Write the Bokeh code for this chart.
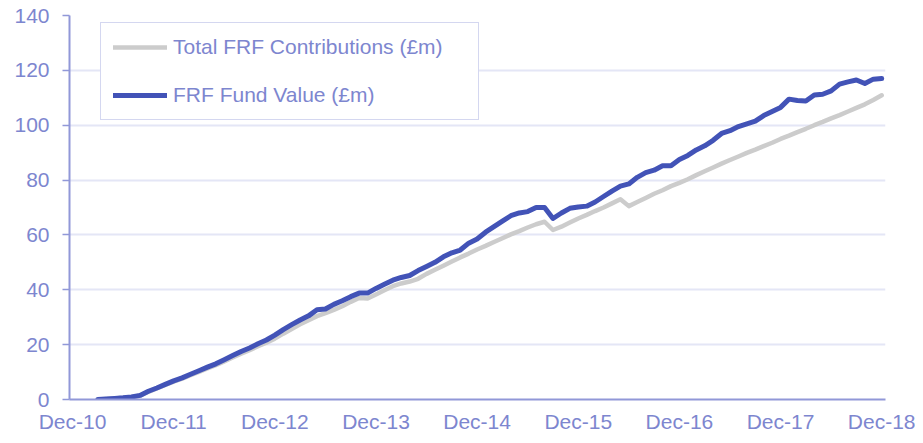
from bokeh.plotting import figure
from bokeh.models import FixedTicker, Legend, LegendItem, Range1d
from bokeh.embed import file_html
from bokeh.resources import INLINE

# Monthly data, month offsets from Dec-10 (Mar-11 .. Dec-18)
months = list(range(3, 97))

fund_value = [
    0.0, 0.2, 0.4, 0.6, 0.9, 1.5, 3.0, 4.2, 5.5, 6.8,
    7.9, 9.2, 10.5, 11.8, 13.0, 14.5, 16.0, 17.5, 18.8, 20.3,
    21.7, 23.5, 25.5, 27.3, 29.0, 30.5, 32.7, 33.0, 34.7, 36.0,
    37.5, 38.8, 38.8, 40.5, 42.0, 43.5, 44.5, 45.2, 47.0, 48.5,
    50.0, 52.0, 53.5, 54.5, 57.0, 58.5, 61.0, 63.0, 65.0, 67.0,
    68.0, 68.5, 70.0, 70.0, 66.0, 68.0, 69.7, 70.2, 70.5, 72.0,
    74.0, 76.0, 77.8, 78.6, 81.0, 82.7, 83.6, 85.2, 85.2, 87.5,
    89.0, 91.0, 92.5, 94.5, 97.0, 98.0, 99.5, 100.5, 101.5, 103.5,
    105.0, 106.5, 109.5, 109.0, 108.8, 111.0, 111.3, 112.5, 115.0, 115.8,
    116.5, 115.2, 116.8, 117.0,
]

contributions = [
    0.0, 0.2, 0.4, 0.6, 0.9, 1.4, 2.8, 4.0, 5.3, 6.5,
    7.6, 8.9, 10.1, 11.3, 12.5, 13.9, 15.3, 16.7, 18.0, 19.4,
    20.7, 22.2, 24.0, 25.7, 27.4, 28.9, 30.4, 31.5, 32.7, 34.0,
    35.6, 37.0, 36.8, 38.3, 39.8, 41.3, 42.3, 43.0, 44.0, 45.8,
    47.3, 48.8, 50.3, 51.8, 53.2, 54.7, 56.0, 57.4, 58.8, 60.2,
    61.4, 62.7, 63.9, 64.8, 61.8, 63.0, 64.5, 66.0, 67.3, 68.7,
    70.0, 71.5, 73.0, 70.5, 72.0, 73.5, 75.0, 76.3, 77.8, 79.0,
    80.3, 81.8, 83.2, 84.6, 86.0, 87.3, 88.6, 89.9, 91.1, 92.4,
    93.6, 95.0, 96.2, 97.5, 98.7, 100.0, 101.2, 102.5, 103.7, 105.0,
    106.3, 107.6, 109.2, 110.9,
]

x_tick_positions = [0, 12, 24, 36, 48, 60, 72, 84, 96]
x_tick_labels = ["Dec-10", "Dec-11", "Dec-12", "Dec-13", "Dec-14",
                 "Dec-15", "Dec-16", "Dec-17", "Dec-18"]
y_ticks = [0, 20, 40, 60, 80, 100, 120, 140]

label_color = "#7d86cf"
axis_color = "#9198d8"
font = "Liberation Sans"

p = figure(width=915, height=435, output_backend="svg", toolbar_location=None,
           x_range=Range1d(-0.36, 96.45), y_range=Range1d(0, 140),
           min_border_left=69, min_border_right=30, min_border_top=15,
           min_border_bottom=35)
p.outline_line_color = None
p.background_fill_color = "white"
p.border_fill_color = "white"

p.xgrid.grid_line_color = None
p.ygrid.grid_line_color = "#e4e6f6"
p.ygrid.grid_line_width = 2

r_contrib = p.line(months, contributions, line_color="#cccccc", line_width=4.5,
                   line_join="round", line_cap="round")
r_fund = p.line(months, fund_value, line_color="#4253b7", line_width=5,
                line_join="round", line_cap="round")

xa = p.xaxis[0]
xa.ticker = FixedTicker(ticks=x_tick_positions)
xa.major_label_overrides = {t: l for t, l in zip(x_tick_positions, x_tick_labels)}
xa.major_tick_line_color = None
xa.major_tick_out = 0
xa.major_tick_in = 0
xa.minor_tick_line_color = None
xa.axis_line_color = axis_color
xa.axis_line_width = 2
xa.major_label_text_color = label_color
xa.major_label_text_font = font
xa.major_label_text_font_size = "21px"
xa.major_label_standoff = 10

ya = p.yaxis[0]
ya.ticker = FixedTicker(ticks=y_ticks)
ya.major_tick_in = 0
ya.major_tick_out = 7
ya.major_tick_line_color = axis_color
ya.major_tick_line_width = 1.5
ya.minor_tick_line_color = None
ya.axis_line_color = axis_color
ya.axis_line_width = 2
ya.major_label_text_color = label_color
ya.major_label_text_font = font
ya.major_label_text_font_size = "21px"
ya.major_label_standoff = 13

legend = Legend(items=[LegendItem(label="Total FRF Contributions (£m)", renderers=[r_contrib]),
                       LegendItem(label="FRF Fund Value (£m)", renderers=[r_fund])],
                location=(31, 279), orientation="vertical",
                padding=12, margin=0, spacing=24,
                glyph_width=54, glyph_height=20, label_height=20,
                label_width=293, label_standoff=6,
                label_text_font=font, label_text_font_size="21px",
                label_text_color=label_color,
                border_line_color="#a9afe2", border_line_width=1,
                background_fill_color="white", background_fill_alpha=1)
p.add_layout(legend)

open("out.html", "w").write(file_html(p, INLINE))
